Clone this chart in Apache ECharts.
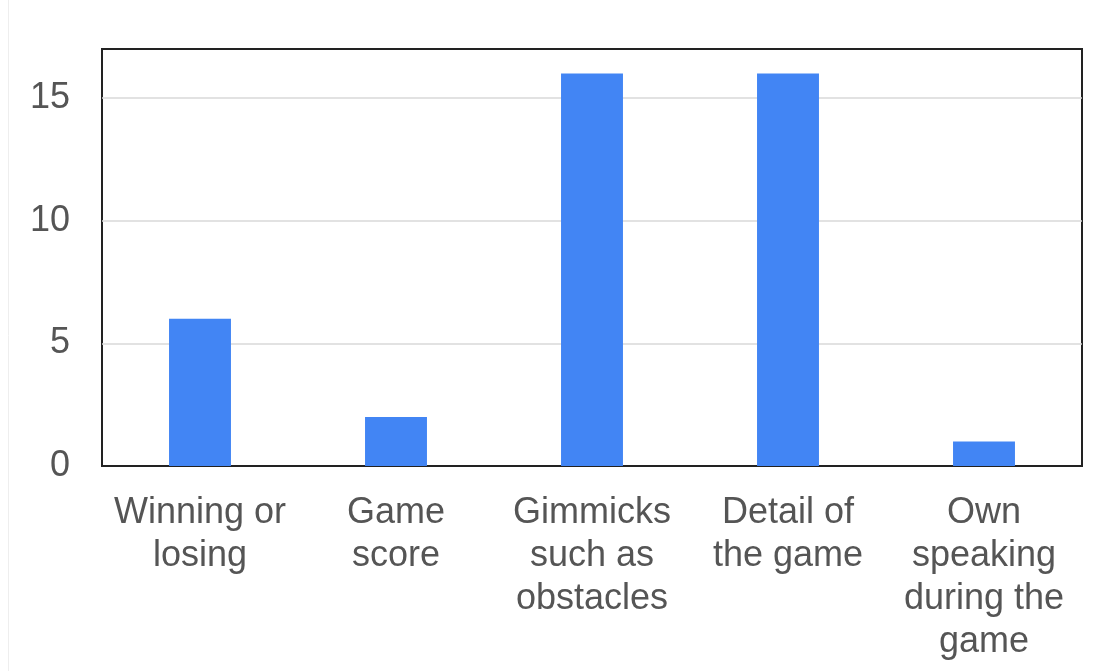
<!DOCTYPE html>
<html>
<head>
<meta charset="utf-8">
<script src="https://cdn.jsdelivr.net/npm/echarts@6/dist/echarts.min.js"></script>
<style>
html,body{margin:0;padding:0;background:#fff;}
#chart{width:1104px;height:671px;}
</style>
</head>
<body>
<div id="chart"></div>
<script>
const categories = ["Winning or\nlosing", "Game\nscore", "Gimmicks\nsuch as\nobstacles", "Detail of\nthe game", "Own\nspeaking\nduring the\ngame"];
const values = [6, 2, 16, 16, 1];
const yMin = 0, yMax = 17, yInterval = 5;

const chart = echarts.init(document.getElementById('chart'));
chart.setOption({
  backgroundColor: '#fff',
  animation: false,
  textStyle: { fontFamily: 'Liberation Sans, Arial, sans-serif' },
  graphic: [{
    type: 'line', shape: { x1: 8.5, y1: 0, x2: 8.5, y2: 671 },
    style: { stroke: '#eeeeee', lineWidth: 1 }, silent: true
  }],
  grid: { left: 102, right: 22, top: 49, bottom: 205, show: true, borderColor: '#222', borderWidth: 2, backgroundColor: 'transparent' },
  xAxis: {
    type: 'category',
    data: categories,
    axisLine: { show: true, lineStyle: { color: '#222', width: 2 } },
    axisTick: { show: false },
    axisLabel: { color: '#555', fontSize: 36, lineHeight: 43, margin: 26, interval: 0, fontFamily: 'Liberation Sans, Arial, sans-serif' }
  },
  yAxis: {
    type: 'value',
    min: yMin, max: yMax, interval: yInterval,
    axisLine: { show: false },
    axisTick: { show: false },
    splitLine: { showMinLine: false, showMaxLine: false, lineStyle: { color: '#d9d9d9', width: 1.5 } },
    axisLabel: { color: '#555', fontSize: 36, margin: 32, showMaxLabel: false, fontFamily: 'Liberation Sans, Arial, sans-serif',
      formatter: v => (v % yInterval === 0 ? String(v) : '') }
  },
  series: [{
    type: 'bar',
    data: values,
    barWidth: '31.6%',
    itemStyle: { color: '#4285F4' },
    z: 3
  }]
});
</script>
</body>
</html>
